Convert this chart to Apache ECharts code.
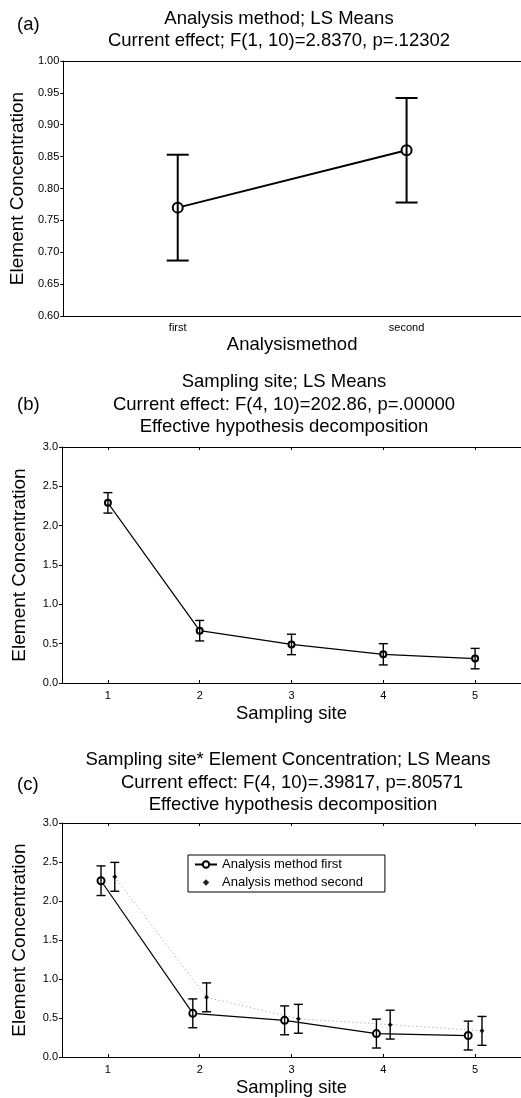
<!DOCTYPE html>
<html lang="en">
<head>
    <meta charset="UTF-8">
    <title>LS Means</title>
    <style>
        html, body { margin: 0; padding: 0; background: #fff; }
        #main { width: 521px; height: 1098px; }
    </style>
</head>
<body>
<div id="main"></div>
<script src="https://cdn.jsdelivr.net/npm/echarts@6/dist/echarts.min.js"></script>
<script>
    // (a) analysis method
    var methodLabels = ['first', 'second'];
    var aMeans = [0.77, 0.86];
    var aErr = [0.083, 0.082];

    // (b) sampling site
    var siteLabels = [1, 2, 3, 4, 5];
    var bMeans = [2.29, 0.665, 0.49, 0.365, 0.31];
    var bErr = [0.13, 0.13, 0.13, 0.135, 0.13];

    // (c) site * method
    var cFirstMeans = [2.26, 0.56, 0.47, 0.30, 0.275];
    var cFirstErr = [0.19, 0.185, 0.185, 0.185, 0.185];
    var cSecondMeans = [2.31, 0.765, 0.49, 0.415, 0.335];
    var cSecondErr = [0.185, 0.185, 0.185, 0.185, 0.185];
    var jitter = 0.075;

    var FONT = 'Liberation Sans, Arial, sans-serif';

    function errBars(means, errs, xs) {
        var out = [];
        for (var i = 0; i < means.length; i++) {
            out.push([xs[i], means[i] - errs[i], means[i] + errs[i]]);
        }
        return out;
    }
    function pairs(xs, ys) {
        var out = [];
        for (var i = 0; i < ys.length; i++) out.push([xs[i], ys[i]]);
        return out;
    }
    function shift(xs, d) {
        return xs.map(function (v) { return v + d; });
    }

    function errRender(capHalf, lw) {
        return function (params, api) {
            var x = api.value(0);
            var lo = api.coord([x, api.value(1)]);
            var hi = api.coord([x, api.value(2)]);
            var st = { stroke: '#000', lineWidth: lw, fill: null };
            return {
                type: 'group',
                children: [
                    { type: 'line', shape: { x1: lo[0], y1: lo[1], x2: hi[0], y2: hi[1] }, style: st },
                    { type: 'line', shape: { x1: hi[0] - capHalf, y1: hi[1], x2: hi[0] + capHalf, y2: hi[1] }, style: st },
                    { type: 'line', shape: { x1: lo[0] - capHalf, y1: lo[1], x2: lo[0] + capHalf, y2: lo[1] }, style: st }
                ]
            };
        };
    }

    function txt(s, x, y, align) {
        return {
            type: 'text', x: x, y: y,
            style: { text: s, fill: '#000', font: '18.5px ' + FONT, textAlign: align || 'center', textVerticalAlign: 'middle' }
        };
    }

    function yAxisCfg(gi, min, max, step, dec) {
        return {
            type: 'value', gridIndex: gi, min: min, max: max, interval: step,
            name: 'Element Concentration', nameLocation: 'middle', nameGap: 33, nameRotate: 90,
            nameTextStyle: { fontFamily: FONT, fontSize: 19, color: '#000' },
            axisLine: { show: true, lineStyle: { color: '#000', width: 1 } },
            axisTick: { show: true, length: 3, lineStyle: { color: '#000' } },
            axisLabel: { fontFamily: FONT, fontSize: 11, color: '#000', margin: 4,
                formatter: function (v) { return v.toFixed(dec); } },
            splitLine: { show: false }
        };
    }

    function siteAxis(gi) {
        return {
            type: 'value', gridIndex: gi, min: 0.5, max: 5.5,
            name: 'Sampling site', nameLocation: 'middle', nameGap: 21,
            nameTextStyle: { fontFamily: FONT, fontSize: 18.5, color: '#000' },
            axisLine: { show: true, onZero: false, lineStyle: { color: '#000', width: 1.2 } },
            axisTick: { show: true, inside: true, length: 3, customValues: siteLabels, lineStyle: { color: '#000' } },
            axisLabel: { fontFamily: FONT, fontSize: 11, color: '#000', margin: 7, customValues: siteLabels },
            splitLine: { show: false }
        };
    }

    // top frame line of each panel
    function topAxis(gi, cat) {
        var ax = {
            gridIndex: gi, position: 'top',
            axisLine: { show: true, onZero: false, lineStyle: { color: '#000', width: 1 } },
            axisTick: { show: !cat, inside: true, length: 3, customValues: siteLabels, lineStyle: { color: '#000' } },
            axisLabel: { show: false },
            splitLine: { show: false }
        };
        if (cat) { ax.type = 'category'; ax.data = methodLabels; }
        else { ax.type = 'value'; ax.min = 0.5; ax.max = 5.5; }
        return ax;
    }

    var chart = echarts.init(document.getElementById('main'));

    var option = {
        animation: false,
        backgroundColor: '#fff',
        graphic: [
            txt('(a)', 17, 25, 'left'),
            txt('Analysis method; LS Means', 279, 19),
            txt('Current effect; F(1, 10)=2.8370, p=.12302', 279, 41),
            txt('(b)', 17, 405, 'left'),
            txt('Sampling site; LS Means', 284, 382),
            txt('Current effect: F(4, 10)=202.86, p=.00000', 284, 405),
            txt('Effective hypothesis decomposition', 284, 427),
            txt('(c)', 17, 785, 'left'),
            txt('Sampling site* Element Concentration; LS Means', 288, 760),
            txt('Current effect: F(4, 10)=.39817, p=.80571', 292, 783),
            txt('Effective hypothesis decomposition', 293, 805)
        ],
        grid: [
            { left: 62, top: 61, width: 464, height: 255 },
            { left: 62, top: 447, width: 462, height: 236 },
            { left: 62, top: 823, width: 462, height: 235 }
        ],
        legend: {
            data: [
                'Analysis method first',
                { name: 'Analysis method second', lineStyle: { opacity: 0 } }
            ],
            orient: 'vertical', left: 188, top: 855,
            itemWidth: 22, itemHeight: 8, itemGap: 5,
            padding: [3, 22, 3, 6],
            borderColor: '#000', borderWidth: 1, backgroundColor: '#fff',
            textStyle: { fontFamily: FONT, fontSize: 13, color: '#000' }
        },
        xAxis: [
            {
                type: 'category', gridIndex: 0, data: methodLabels, boundaryGap: true,
                name: 'Analysismethod', nameLocation: 'middle', nameGap: 19,
                nameTextStyle: { fontFamily: FONT, fontSize: 18.5, color: '#000' },
                axisLine: { show: true, lineStyle: { color: '#000', width: 1.2 } },
                axisTick: { show: false },
                axisLabel: { fontFamily: FONT, fontSize: 11, color: '#000', margin: 6 }
            },
            siteAxis(1),
            siteAxis(2),
            topAxis(0, true),
            topAxis(1, false),
            topAxis(2, false)
        ],
        yAxis: [
            yAxisCfg(0, 0.6, 1.0, 0.05, 2),
            yAxisCfg(1, 0, 3, 0.5, 1),
            yAxisCfg(2, 0, 3, 0.5, 1)
        ],
        series: [
            // (a)
            {
                name: 'a', type: 'line', xAxisIndex: 0, yAxisIndex: 0,
                data: aMeans, symbol: 'emptyCircle', symbolSize: 10,
                lineStyle: { color: '#000', width: 2 },
                itemStyle: { color: '#000', borderWidth: 2 }, z: 3
            },
            {
                type: 'custom', xAxisIndex: 0, yAxisIndex: 0,
                renderItem: errRender(11, 2),
                data: errBars(aMeans, aErr, [0, 1]), z: 4
            },
            // (b)
            {
                name: 'b', type: 'line', xAxisIndex: 1, yAxisIndex: 1,
                data: pairs(siteLabels, bMeans), symbol: 'emptyCircle', symbolSize: 6,
                lineStyle: { color: '#000', width: 1.2 },
                itemStyle: { color: '#000', borderWidth: 1.2 }, z: 3
            },
            {
                type: 'custom', xAxisIndex: 1, yAxisIndex: 1,
                renderItem: errRender(4.5, 1.4),
                data: errBars(bMeans, bErr, siteLabels), z: 4
            },
            // (c)
            {
                name: 'Analysis method second', type: 'line', xAxisIndex: 2, yAxisIndex: 2,
                data: pairs(shift(siteLabels, jitter), cSecondMeans),
                symbol: 'diamond', symbolSize: 5,
                lineStyle: { color: '#9a9a9a', width: 1, type: [1, 3] },
                itemStyle: { color: '#222' }, z: 2
            },
            {
                name: 'Analysis method first', type: 'line', xAxisIndex: 2, yAxisIndex: 2,
                data: pairs(shift(siteLabels, -jitter), cFirstMeans),
                symbol: 'emptyCircle', symbolSize: 7,
                lineStyle: { color: '#000', width: 1.2 },
                itemStyle: { color: '#000', borderWidth: 1.2 }, z: 3
            },
            {
                type: 'custom', xAxisIndex: 2, yAxisIndex: 2,
                renderItem: errRender(4.5, 1.4),
                data: errBars(cFirstMeans, cFirstErr, shift(siteLabels, -jitter)), z: 4
            },
            {
                type: 'custom', xAxisIndex: 2, yAxisIndex: 2,
                renderItem: errRender(4.5, 1.4),
                data: errBars(cSecondMeans, cSecondErr, shift(siteLabels, jitter)), z: 4
            }
        ]
    };
    chart.setOption(option);
</script>
</body>
</html>
